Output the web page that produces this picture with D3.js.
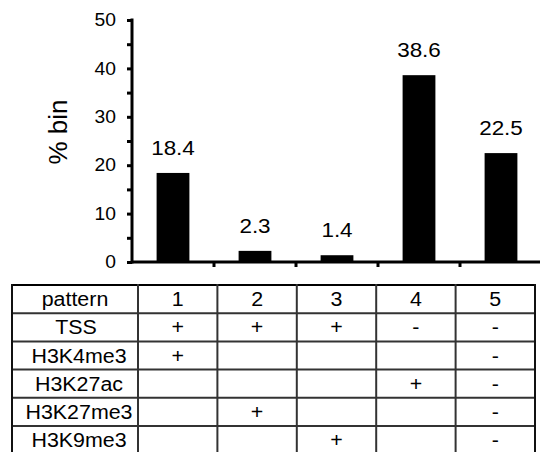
<!DOCTYPE html>
<html>
<head>
<meta charset="utf-8">
<script src="https://cdn.jsdelivr.net/npm/d3@7"></script>
<style>
  html, body { margin: 0; padding: 0; background: #fff; }
  svg { display: block; font-family: "Liberation Sans", Arial, sans-serif; }
</style>
</head>
<body>
<svg id="chart" width="540" height="452"></svg>
<script>
// ---- data ----
const patterns = ["1", "2", "3", "4", "5"];
const percentBin = [18.4, 2.3, 1.4, 38.6, 22.5];
const yTicks = [0, 10, 20, 30, 40, 50];
const rowLabels = ["TSS", "H3K4me3", "H3K27ac", "H3K27me3", "H3K9me3"];
const tssRow      = ["+", "+", "+", "-", "-"];
const h3k4me3Row  = ["+", "", "", "", "-"];
const h3k27acRow  = ["", "", "", "+", "-"];
const h3k27me3Row = ["", "+", "", "", "-"];
const h3k9me3Row  = ["", "", "+", "", "-"];
const tableRows = [tssRow, h3k4me3Row, h3k27acRow, h3k27me3Row, h3k9me3Row];

const svg = d3.select("#chart");
const SX = 1.07; // horizontal text stretch seen in reference

// ---- scales ----
const x = d3.scaleBand().domain(patterns).range([132, 542]).paddingInner(0.6).paddingOuter(0.3);
const y = d3.scaleLinear().domain([0, 50]).range([262, 20]);

// ---- bars ----
svg.append("g").selectAll("rect")
  .data(percentBin)
  .join("rect")
  .attr("x", (d, i) => x(patterns[i]))
  .attr("width", x.bandwidth())
  .attr("y", d => y(d))
  .attr("height", d => y(0) - y(d))
  .attr("fill", "#000");

// value labels
svg.append("g").selectAll("text")
  .data(percentBin)
  .join("text")
  .attr("transform", (d, i) => `translate(${x(patterns[i]) + x.bandwidth() / 2},${y(d) - 18}) scale(${SX},1)`)
  .attr("text-anchor", "middle")
  .attr("font-size", 21)
  .attr("fill", "#000")
  .text(d => d.toFixed(1));

// ---- y axis ----
const minorTicks = d3.range(0, 51, 5);
const yAxis = d3.axisLeft(y)
  .tickValues(minorTicks)
  .tickSize(5)
  .tickSizeOuter(0)
  .tickPadding(11)
  .tickFormat(d => yTicks.includes(d) ? d3.format("d")(d) : "");
const gy = svg.append("g").attr("transform", "translate(132,0)").call(yAxis);
gy.select(".domain").attr("stroke", "#000").attr("stroke-width", 3)
  .attr("d", `M0,${y(50) - 1.5}V${y(0) + 1.5}`);
gy.selectAll(".tick line").attr("stroke", "#000").attr("stroke-width", 3);
gy.selectAll(".tick text")
  .attr("font-size", 18)
  .attr("font-family", "Liberation Sans, Arial, sans-serif")
  .attr("fill", "#000")
  .attr("transform", `scale(${SX},1)`)
  .attr("x", -16 / SX);

// y title
svg.append("text")
  .attr("transform", `translate(67,132) rotate(-90)`)
  .attr("text-anchor", "middle")
  .attr("font-size", 26)
  .attr("fill", "#000")
  .text("% bin");

// ---- x axis ----
const xEdges = d3.scaleLinear().domain([0, patterns.length]).range([132, 542]);
const gx = svg.append("g");
gx.append("line")
  .attr("x1", 132).attr("x2", 540)
  .attr("y1", y(0)).attr("y2", y(0))
  .attr("stroke", "#000").attr("stroke-width", 3);
gx.selectAll(".xt")
  .data(d3.range(1, patterns.length))
  .join("line")
  .attr("class", "xt")
  .attr("x1", d => xEdges(d)).attr("x2", d => xEdges(d))
  .attr("y1", y(0)).attr("y2", y(0) + 5)
  .attr("stroke", "#000").attr("stroke-width", 3);

// ---- table ----
const tLeft = 12, tFirst = 138, tRight = 535, tTop = 285, rowH = 28.2;
const col = d3.scaleBand().domain(patterns).range([tFirst, tRight]);
const nRows = tableRows.length + 1;
const tg = svg.append("g");
const lineColor = "#333";

// horizontal lines
tg.selectAll(".hl")
  .data(d3.range(0, nRows + 1))
  .join("line")
  .attr("class", "hl")
  .attr("x1", tLeft).attr("x2", tRight)
  .attr("y1", d => tTop + d * rowH).attr("y2", d => tTop + d * rowH)
  .attr("stroke", (d) => d === 0 ? "#000" : lineColor)
  .attr("stroke-width", 2);

// vertical lines
const vx = [tLeft, tFirst].concat(patterns.map(p => col(p) + col.bandwidth()).slice(0, -1)).concat([tRight]);
tg.selectAll(".vl")
  .data(vx)
  .join("line")
  .attr("class", "vl")
  .attr("x1", d => d).attr("x2", d => d)
  .attr("y1", tTop - 1).attr("y2", tTop + nRows * rowH + 2)
  .attr("stroke", (d, i) => (i === 0 || i === vx.length - 1) ? "#111" : lineColor)
  .attr("stroke-width", 2);

function cellText(cx, rowIdx, txt) {
  tg.append("text")
    .attr("transform", `translate(${cx},${tTop + rowIdx * rowH + rowH / 2 + 7}) scale(${SX},1)`)
    .attr("text-anchor", "middle")
    .attr("font-size", 20)
    .attr("fill", "#000")
    .text(txt);
}

// header row
cellText((tLeft + tFirst) / 2, 0, "pattern");
patterns.forEach(p => cellText(col(p) + col.bandwidth() / 2, 0, p));

// body rows
rowLabels.forEach((lab, r) => {
  cellText((tLeft + tFirst) / 2 + (r === 0 ? 1 : 4), r + 1, lab);
  tableRows[r].forEach((v, c) => {
    if (v) cellText(col(patterns[c]) + col.bandwidth() / 2, r + 1, v);
  });
});
</script>
</body>
</html>
